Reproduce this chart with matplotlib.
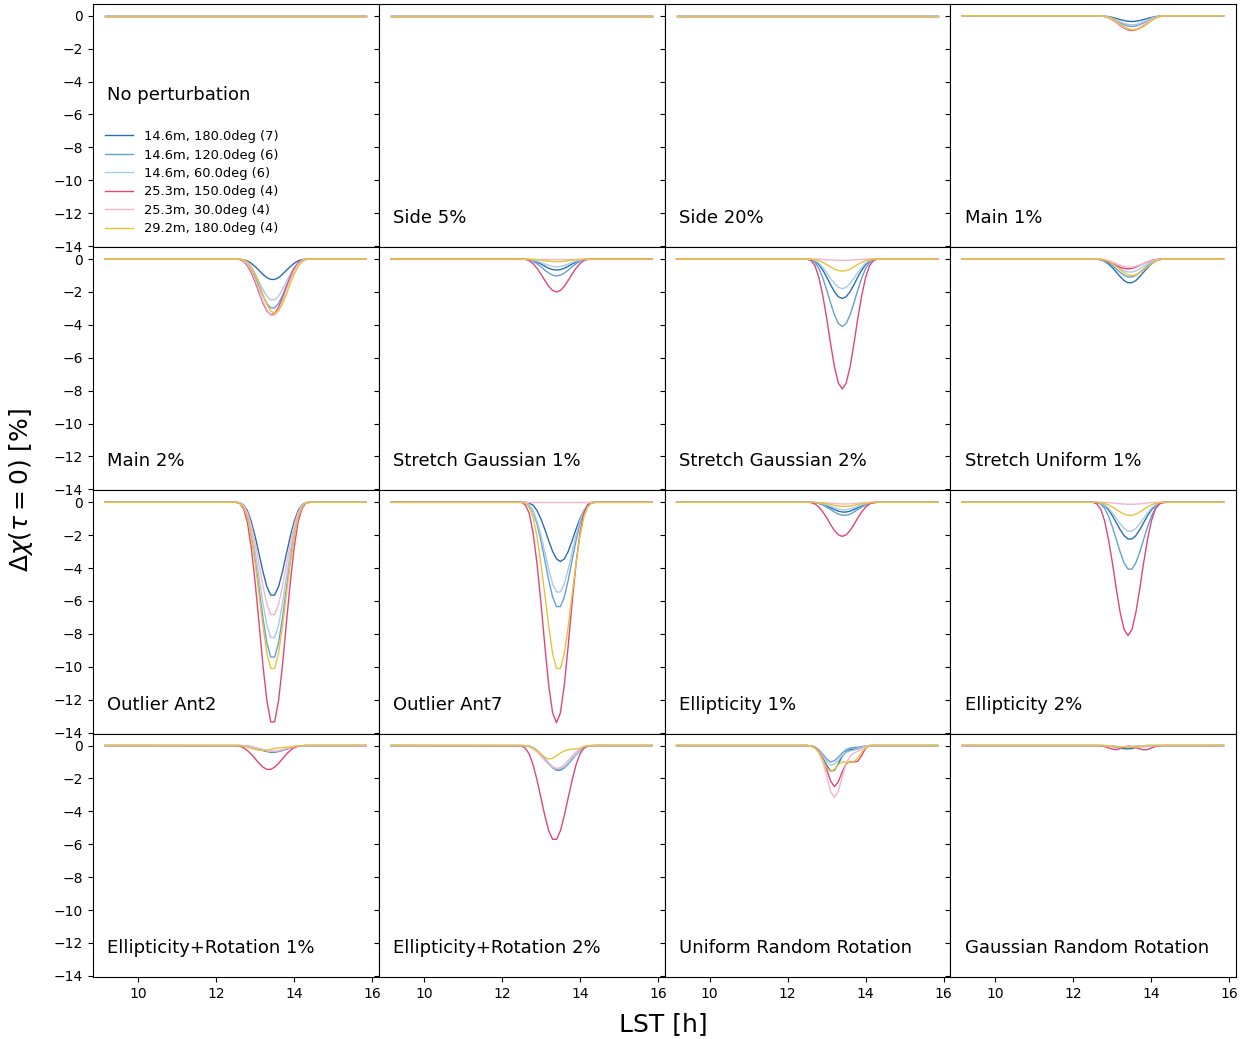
import numpy as np
import matplotlib.pyplot as plt

# LST sampling (h): baseline ends + the dip region
lst = [9.15, 12.5, 12.6, 12.7, 12.8, 12.9, 13.0, 13.1, 13.2, 13.3, 13.4,
       13.5, 13.6, 13.7, 13.8, 13.9, 14.0, 14.1, 14.2, 14.3, 14.4, 15.85]

labels = ["14.6m, 180.0deg (7)", "14.6m, 120.0deg (6)", "14.6m, 60.0deg (6)",
          "25.3m, 150.0deg (4)", "25.3m, 30.0deg (4)", "29.2m, 180.0deg (4)"]
colors = ["#2a6eb0", "#64a0d2", "#a8cbe6", "#e0457b", "#f5b5cc", "#e6c33c"]

titles = ["No perturbation", "Side 5%", "Side 20%", "Main 1%",
          "Main 2%", "Stretch Gaussian 1%", "Stretch Gaussian 2%", "Stretch Uniform 1%",
          "Outlier Ant2", "Outlier Ant7", "Ellipticity 1%", "Ellipticity 2%",
          "Ellipticity+Rotation 1%", "Ellipticity+Rotation 2%",
          "Uniform Random Rotation", "Gaussian Random Rotation"]

# rows: dark blue, mid blue, light blue, red, pink, yellow
no_pert = [
    [0, 0, 0, 0, 0, 0, 0, 0, 0, 0, 0, 0, 0, 0, 0, 0, 0, 0, 0, 0, 0, 0],
    [0, 0, 0, 0, 0, 0, 0, 0, 0, 0, 0, 0, 0, 0, 0, 0, 0, 0, 0, 0, 0, 0],
    [0, 0, 0, 0, 0, 0, 0, 0, 0, 0, 0, 0, 0, 0, 0, 0, 0, 0, 0, 0, 0, 0],
    [0, 0, 0, 0, 0, 0, 0, 0, 0, 0, 0, 0, 0, 0, 0, 0, 0, 0, 0, 0, 0, 0],
    [0, 0, 0, 0, 0, 0, 0, 0, 0, 0, 0, 0, 0, 0, 0, 0, 0, 0, 0, 0, 0, 0],
    [0, 0, 0, 0, 0, 0, 0, 0, 0, 0, 0, 0, 0, 0, 0, 0, 0, 0, 0, 0, 0, 0],
]
side_5 = [
    [0, 0, 0, 0, 0, 0, 0, 0, 0, 0, 0, 0, 0, 0, 0, 0, 0, 0, 0, 0, 0, 0],
    [0, 0, 0, 0, 0, 0, 0, 0, 0, 0, 0, 0, 0, 0, 0, 0, 0, 0, 0, 0, 0, 0],
    [0, 0, 0, 0, 0, 0, 0, 0, 0, 0, 0, 0, 0, 0, 0, 0, 0, 0, 0, 0, 0, 0],
    [0, 0, 0, 0, 0, 0, 0, 0, 0, 0, 0, 0, 0, 0, 0, 0, 0, 0, 0, 0, 0, 0],
    [0, 0, 0, 0, 0, 0, 0, 0, 0, 0, 0, 0, 0, 0, 0, 0, 0, 0, 0, 0, 0, 0],
    [0, 0, 0, 0, 0, 0, 0, 0, 0, 0, 0, 0, 0, 0, 0, 0, 0, 0, 0, 0, 0, 0],
]
side_20 = [
    [0, 0, 0, 0, 0, 0, 0, 0, 0, 0, 0, 0, 0, 0, 0, 0, 0, 0, 0, 0, 0, 0],
    [0, 0, 0, 0, 0, 0, 0, 0, 0, 0, 0, 0, 0, 0, 0, 0, 0, 0, 0, 0, 0, 0],
    [0, 0, 0, 0, 0, 0, 0, 0, 0, 0, 0, 0, 0, 0, 0, 0, 0, 0, 0, 0, 0, 0],
    [0, 0, 0, 0, 0, 0, 0, 0, 0, 0, 0, 0, 0, 0, 0, 0, 0, 0, 0, 0, 0, 0],
    [0, 0, 0, 0, 0, 0, 0, 0, 0, 0, 0, 0, 0, 0, 0, 0, 0, 0, 0, 0, 0, 0],
    [0, 0, 0, 0, 0, 0, 0, 0, 0, 0, 0, 0, 0, 0, 0, 0, 0, 0, 0, 0, 0, 0],
]
main_1 = [
    [0, 0, 0, 0, -.02, -.05, -.1, -.16, -.23, -.29, -.33, -.35, -.33, -.29, -.23, -.16, -.1, -.05, -.02, 0, 0, 0],
    [0, 0, 0, -.01, -.03, -.09, -.18, -.3, -.42, -.54, -.62, -.65, -.62, -.54, -.42, -.3, -.18, -.09, -.03, -.01, 0, 0],
    [0, 0, 0, -.01, -.03, -.08, -.15, -.25, -.36, -.46, -.53, -.55, -.53, -.46, -.36, -.25, -.15, -.08, -.03, -.01, 0, 0],
    [0, 0, 0, -.01, -.05, -.13, -.25, -.41, -.59, -.75, -.86, -.9, -.86, -.75, -.59, -.41, -.25, -.13, -.05, -.01, 0, 0],
    [0, 0, 0, -.01, -.04, -.12, -.24, -.39, -.55, -.71, -.81, -.85, -.81, -.71, -.55, -.39, -.24, -.12, -.04, -.01, 0, 0],
    [0, 0, 0, 0, -.02, -.08, -.18, -.32, -.5, -.66, -.78, -.84, -.85, -.78, -.66, -.48, -.3, -.16, -.06, -.02, 0, 0],
]
main_2 = [
    [0, 0, -.01, -.04, -.11, -.26, -.46, -.69, -.93, -1.13, -1.24, -1.24, -1.13, -.93, -.69, -.46, -.26, -.11, -.04, -.01, 0, 0],
    [0, 0, -.01, -.08, -.27, -.62, -1.1, -1.65, -2.22, -2.7, -2.97, -2.97, -2.7, -2.22, -1.65, -1.1, -.62, -.27, -.08, -.01, 0, 0],
    [0, 0, -.01, -.07, -.23, -.51, -.91, -1.38, -1.85, -2.25, -2.48, -2.48, -2.25, -1.85, -1.38, -.91, -.51, -.23, -.07, -.01, 0, 0],
    [0, 0, -.03, -.14, -.4, -.83, -1.4, -2.04, -2.67, -3.16, -3.39, -3.31, -2.94, -2.37, -1.71, -1.1, -.59, -.24, -.07, -.01, 0, 0],
    [0, 0, -.01, -.1, -.31, -.71, -1.26, -1.9, -2.55, -3.1, -3.42, -3.42, -3.1, -2.55, -1.9, -1.26, -.71, -.31, -.1, -.01, 0, 0],
    [0, 0, 0, -.04, -.17, -.46, -.92, -1.5, -2.15, -2.74, -3.15, -3.3, -3.15, -2.74, -2.15, -1.5, -.92, -.46, -.17, -.04, 0, 0],
]
stretch_gauss_1 = [
    [0, 0, -.01, -.03, -.09, -.19, -.3, -.44, -.56, -.64, -.67, -.64, -.56, -.44, -.3, -.19, -.09, -.03, -.01, 0, 0, 0],
    [0, 0, -.01, -.05, -.14, -.29, -.47, -.67, -.85, -.98, -1.03, -.98, -.85, -.67, -.47, -.29, -.14, -.05, -.01, 0, 0, 0],
    [0, 0, -.01, -.02, -.07, -.13, -.21, -.31, -.39, -.45, -.47, -.45, -.39, -.31, -.21, -.13, -.07, -.02, -.01, 0, 0, 0],
    [0, 0, -.02, -.1, -.28, -.56, -.91, -1.3, -1.66, -1.91, -2.0, -1.91, -1.66, -1.3, -.91, -.56, -.28, -.1, -.02, 0, 0, 0],
    [0, 0, 0, 0, 0, 0, 0, 0, 0, 0, 0, 0, 0, 0, 0, 0, 0, 0, 0, 0, 0, 0],
    [0, 0, 0, -.01, -.02, -.04, -.07, -.1, -.13, -.15, -.16, -.15, -.13, -.1, -.07, -.04, -.02, -.01, 0, 0, 0, 0],
]
stretch_gauss_2 = [
    [0, 0, -.03, -.12, -.34, -.67, -1.09, -1.56, -1.99, -2.29, -2.4, -2.29, -1.99, -1.56, -1.09, -.67, -.34, -.12, -.03, 0, 0, 0],
    [0, 0, -.05, -.21, -.57, -1.15, -1.87, -2.67, -3.4, -3.92, -4.1, -3.92, -3.4, -2.67, -1.87, -1.15, -.57, -.21, -.05, 0, 0, 0],
    [0, 0, -.02, -.09, -.25, -.5, -.82, -1.17, -1.49, -1.72, -1.8, -1.72, -1.49, -1.17, -.82, -.5, -.25, -.09, -.02, 0, 0, 0],
    [0, 0, -.09, -.4, -1.11, -2.21, -3.59, -5.14, -6.56, -7.54, -7.9, -7.54, -6.56, -5.14, -3.59, -2.21, -1.11, -.4, -.09, 0, 0, 0],
    [0, 0, 0, 0, -.01, -.02, -.04, -.05, -.07, -.08, -.08, -.08, -.07, -.05, -.04, -.02, -.01, 0, 0, 0, 0, 0],
    [0, 0, -.01, -.04, -.1, -.2, -.33, -.47, -.61, -.7, -.73, -.7, -.61, -.47, -.33, -.2, -.1, -.04, -.01, 0, 0, 0],
]
stretch_unif_1 = [
    [0, 0, -.01, -.04, -.13, -.3, -.53, -.8, -1.07, -1.31, -1.44, -1.44, -1.31, -1.07, -.8, -.53, -.3, -.13, -.04, -.01, 0, 0],
    [0, 0, 0, -.03, -.1, -.23, -.4, -.61, -.81, -.99, -1.09, -1.09, -.99, -.81, -.61, -.4, -.23, -.1, -.03, 0, 0, 0],
    [0, 0, 0, -.02, -.07, -.16, -.29, -.44, -.59, -.72, -.79, -.79, -.72, -.59, -.44, -.29, -.16, -.07, -.02, 0, 0, 0],
    [0, 0, -.01, -.03, -.08, -.17, -.27, -.39, -.5, -.57, -.6, -.57, -.5, -.39, -.27, -.17, -.08, -.03, -.01, 0, 0, 0],
    [0, 0, 0, -.01, -.05, -.1, -.18, -.28, -.37, -.45, -.5, -.5, -.45, -.37, -.28, -.18, -.1, -.05, -.01, 0, 0, 0],
    [0, 0, 0, -.01, -.05, -.14, -.28, -.46, -.65, -.83, -.96, -1.0, -.96, -.83, -.65, -.46, -.28, -.14, -.05, -.01, 0, 0],
]
outlier_ant2 = [
    [0, 0, -.02, -.16, -.51, -1.17, -2.08, -3.14, -4.22, -5.13, -5.64, -5.64, -5.13, -4.22, -3.14, -2.08, -1.17, -.51, -.16, -.02, 0, 0],
    [0, 0, -.04, -.27, -.86, -1.95, -3.47, -5.23, -7.03, -8.55, -9.41, -9.41, -8.55, -7.03, -5.23, -3.47, -1.95, -.86, -.27, -.04, 0, 0],
    [0, 0, -.03, -.23, -.75, -1.7, -3.03, -4.57, -6.14, -7.47, -8.22, -8.22, -7.47, -6.14, -4.57, -3.03, -1.7, -.75, -.23, -.03, 0, 0],
    [0, 0, -.05, -.38, -1.21, -2.75, -4.89, -7.37, -9.92, -12.06, -13.35, -13.35, -12.06, -9.92, -7.37, -4.89, -2.75, -1.21, -.38, -.05, 0, 0],
    [0, 0, -.03, -.19, -.62, -1.41, -2.52, -3.8, -5.11, -6.21, -6.83, -6.83, -6.21, -5.11, -3.8, -2.52, -1.41, -.62, -.19, -.03, 0, 0],
    [0, 0, -.04, -.29, -.92, -2.09, -3.72, -5.61, -7.55, -9.18, -10.1, -10.1, -9.18, -7.55, -5.61, -3.72, -2.09, -.92, -.29, -.04, 0, 0],
]
outlier_ant7 = [
    [0, 0, 0, -.04, -.18, -.5, -1.01, -1.64, -2.34, -2.99, -3.44, -3.6, -3.44, -2.99, -2.34, -1.64, -1.01, -.5, -.18, -.04, 0, 0],
    [0, 0, -.03, -.18, -.58, -1.31, -2.34, -3.52, -4.74, -5.76, -6.34, -6.34, -5.76, -4.74, -3.52, -2.34, -1.31, -.58, -.18, -.03, 0, 0],
    [0, 0, -.02, -.15, -.5, -1.13, -2.01, -3.03, -4.07, -4.95, -5.45, -5.45, -4.95, -4.07, -3.03, -2.01, -1.13, -.5, -.15, -.02, 0, 0],
    [0, 0, -.16, -.67, -1.88, -3.75, -6.1, -8.71, -11.12, -12.8, -13.4, -12.8, -11.12, -8.71, -6.1, -3.75, -1.88, -.67, -.16, 0, 0, 0],
    [0, 0, 0, 0, 0, 0, 0, 0, 0, 0, 0, 0, 0, 0, 0, 0, 0, 0, 0, 0, 0, 0],
    [0, 0, -.04, -.29, -.92, -2.09, -3.72, -5.61, -7.55, -9.18, -10.1, -10.1, -9.18, -7.55, -5.61, -3.72, -2.09, -.92, -.29, -.04, 0, 0],
]
ellip_1 = [
    [0, 0, 0, -.02, -.05, -.12, -.22, -.33, -.44, -.54, -.59, -.59, -.54, -.44, -.33, -.22, -.12, -.05, -.02, 0, 0, 0],
    [0, 0, 0, -.02, -.07, -.16, -.29, -.44, -.59, -.72, -.79, -.79, -.72, -.59, -.44, -.29, -.16, -.07, -.02, 0, 0, 0],
    [0, 0, 0, -.01, -.04, -.09, -.16, -.25, -.33, -.41, -.45, -.45, -.41, -.33, -.25, -.16, -.09, -.04, -.01, 0, 0, 0],
    [0, 0, -.02, -.1, -.29, -.58, -.94, -1.35, -1.72, -1.98, -2.07, -1.98, -1.72, -1.35, -.94, -.58, -.29, -.1, -.02, 0, 0, 0],
    [0, 0, 0, 0, -.01, -.02, -.04, -.06, -.07, -.09, -.1, -.1, -.09, -.07, -.06, -.04, -.02, -.01, 0, 0, 0, 0],
    [0, 0, 0, -.01, -.02, -.05, -.09, -.14, -.19, -.23, -.25, -.25, -.23, -.19, -.14, -.09, -.05, -.02, -.01, 0, 0, 0],
]
ellip_2 = [
    [0, 0, -.01, -.06, -.2, -.46, -.82, -1.24, -1.67, -2.03, -2.23, -2.23, -2.03, -1.67, -1.24, -.82, -.46, -.2, -.06, -.01, 0, 0],
    [0, 0, -.02, -.11, -.37, -.84, -1.5, -2.26, -3.03, -3.69, -4.06, -4.06, -3.69, -3.03, -2.26, -1.5, -.84, -.37, -.11, -.02, 0, 0],
    [0, 0, -.01, -.05, -.16, -.36, -.65, -.97, -1.31, -1.59, -1.75, -1.75, -1.59, -1.31, -.97, -.65, -.36, -.16, -.05, -.01, 0, 0],
    [0, 0, -.1, -.41, -1.13, -2.27, -3.69, -5.27, -6.72, -7.74, -8.1, -7.74, -6.72, -5.27, -3.69, -2.27, -1.13, -.41, -.1, 0, 0, 0],
    [0, 0, 0, 0, -.01, -.02, -.04, -.07, -.09, -.11, -.12, -.12, -.11, -.09, -.07, -.04, -.02, -.01, 0, 0, 0, 0],
    [0, 0, 0, -.02, -.07, -.16, -.29, -.44, -.59, -.72, -.79, -.79, -.72, -.59, -.44, -.29, -.16, -.07, -.02, 0, 0, 0],
]
ellip_rot_1 = [
    [0, 0, 0, -.01, -.04, -.08, -.15, -.22, -.3, -.36, -.4, -.4, -.36, -.3, -.22, -.15, -.08, -.04, -.01, 0, 0, 0],
    [0, 0, 0, -.01, -.03, -.08, -.14, -.21, -.28, -.34, -.38, -.38, -.34, -.28, -.21, -.14, -.08, -.03, -.01, 0, 0, 0],
    [0, 0, 0, -.01, -.03, -.07, -.12, -.18, -.24, -.3, -.33, -.33, -.3, -.24, -.18, -.12, -.07, -.03, -.01, 0, 0, 0],
    [0, -.01, -.04, -.13, -.3, -.53, -.8, -1.08, -1.31, -1.45, -1.45, -1.31, -1.08, -.8, -.53, -.3, -.13, -.04, -.01, 0, 0, 0],
    [0, 0, 0, -.01, -.03, -.07, -.13, -.19, -.26, -.32, -.35, -.35, -.32, -.26, -.19, -.13, -.07, -.03, -.01, 0, 0, 0],
    [0, 0, -.01, -.04, -.09, -.16, -.23, -.28, -.3, -.28, -.23, -.18, -.14, -.12, -.1, -.08, -.05, -.02, -.01, 0, 0, 0],
]
ellip_rot_2 = [
    [0, 0, -.01, -.04, -.14, -.31, -.55, -.83, -1.11, -1.35, -1.49, -1.49, -1.35, -1.11, -.83, -.55, -.31, -.14, -.04, -.01, 0, 0],
    [0, 0, -.01, -.04, -.13, -.3, -.54, -.81, -1.1, -1.33, -1.47, -1.47, -1.33, -1.1, -.81, -.54, -.3, -.13, -.04, -.01, 0, 0],
    [0, 0, -.01, -.04, -.13, -.29, -.52, -.78, -1.05, -1.28, -1.41, -1.41, -1.28, -1.05, -.78, -.52, -.29, -.13, -.04, -.01, 0, 0],
    [0, -.02, -.16, -.52, -1.18, -2.1, -3.17, -4.26, -5.18, -5.7, -5.7, -5.18, -4.26, -3.17, -2.1, -1.18, -.52, -.16, -.02, 0, 0, 0],
    [0, 0, -.02, -.07, -.2, -.39, -.64, -.91, -1.16, -1.34, -1.4, -1.34, -1.16, -.91, -.64, -.39, -.2, -.07, -.02, 0, 0, 0],
    [0, 0, -.01, -.05, -.15, -.32, -.52, -.7, -.82, -.78, -.62, -.45, -.32, -.25, -.22, -.2, -.17, -.06, -.01, 0, 0, 0],
]
unif_rot = [
    [0, 0, -.02, -.12, -.35, -.75, -1.2, -1.55, -1.5, -1.1, -.65, -.38, -.25, -.22, -.2, -.12, -.04, 0, 0, 0, 0, 0],
    [0, 0, -.01, -.08, -.25, -.52, -.82, -1.0, -.92, -.7, -.45, -.25, -.15, -.12, -.1, -.06, -.02, 0, 0, 0, 0, 0],
    [0, 0, -.01, -.1, -.3, -.62, -.98, -1.2, -1.12, -.88, -.6, -.42, -.33, -.28, -.2, -.1, -.03, 0, 0, 0, 0, 0],
    [0, 0, -.03, -.13, -.38, -.8, -1.45, -2.15, -2.5, -2.2, -1.6, -1.1, -.98, -1.0, -.95, -.6, -.15, -.02, 0, 0, 0, 0],
    [0, 0, -.03, -.15, -.45, -1.0, -1.85, -2.8, -3.15, -2.75, -1.9, -1.1, -.65, -.45, -.35, -.2, -.05, 0, 0, 0, 0, 0],
    [0, 0, -.03, -.15, -.42, -.85, -1.35, -1.58, -1.45, -1.15, -1.0, -1.0, -1.02, -.98, -.75, -.4, -.12, -.02, 0, 0, 0, 0],
]
gauss_rot = [
    [0, 0, 0, 0, -.01, -.03, -.06, -.1, -.15, -.19, -.2, -.18, -.12, -.06, -.02, 0, 0, 0, 0, 0, 0, 0],
    [0, 0, 0, 0, 0, -.02, -.04, -.07, -.09, -.1, -.09, -.07, -.05, -.03, -.01, 0, 0, 0, 0, 0, 0, 0],
    [0, 0, 0, 0, 0, -.01, -.03, -.05, -.07, -.08, -.07, -.05, -.03, -.02, -.01, 0, 0, 0, 0, 0, 0, 0],
    [0, 0, 0, -.02, -.06, -.14, -.22, -.25, -.18, -.08, -.04, -.06, -.12, -.2, -.26, -.25, -.15, -.06, -.02, 0, 0, 0],
    [0, 0, 0, 0, -.01, -.03, -.06, -.08, -.08, -.06, -.05, -.06, -.08, -.09, -.08, -.05, -.02, -.01, 0, 0, 0, 0],
    [0, 0, 0, 0, -.01, -.02, -.04, -.06, -.07, -.08, -.08, -.07, -.06, -.04, -.02, -.01, 0, 0, 0, 0, 0, 0],
]

panels = [no_pert, side_5, side_20, main_1,
          main_2, stretch_gauss_1, stretch_gauss_2, stretch_unif_1,
          outlier_ant2, outlier_ant7, ellip_1, ellip_2,
          ellip_rot_1, ellip_rot_2, unif_rot, gauss_rot]

fig, axes = plt.subplots(4, 4, sharex=True, sharey=True, figsize=(12.5, 10.39), dpi=100)
fig.subplots_adjust(left=0.0744, right=0.9888, bottom=0.0597, top=0.9962, wspace=0, hspace=0)

for i, (ax, name, data) in enumerate(zip(axes.flat, titles, panels)):
    for row, c, lab in zip(data, colors, labels):
        ax.plot(lst, row, color=c, lw=1.0, label=lab)
    if i == 0:
        ax.text(0.05, 0.625, name, transform=ax.transAxes, fontsize=13, va="center")
        ax.legend(loc="lower left", frameon=False, fontsize=9.4, labelspacing=0.42,
                  handlelength=2.2)
    else:
        ax.text(0.05, 0.12, name, transform=ax.transAxes, fontsize=13, va="center")
    ax.tick_params(labelsize=10)

ax.set_xlim(8.84, 16.17)
ax.set_ylim(-14.07, 0.72)
ax.set_xticks([10, 12, 14, 16])
ax.set_yticks(np.arange(0, -15, -2))

fig.text(0.531, 0.014, "LST [h]", ha="center", va="center", fontsize=18)
fig.text(0.017, 0.528, r"$\Delta\chi(\tau = 0)$ [%]", ha="center", va="center",
         rotation=90, fontsize=18)

fig.savefig("out.png", dpi=100)
